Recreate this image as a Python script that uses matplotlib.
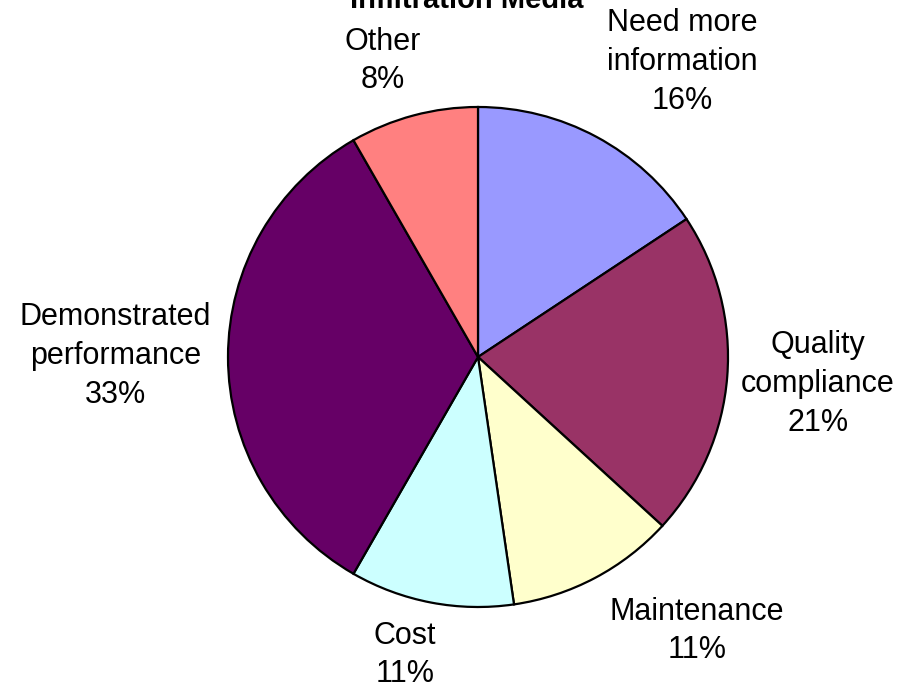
import matplotlib
matplotlib.use("Agg")
import matplotlib.pyplot as plt

categories = ["Need more\ninformation", "Quality\ncompliance", "Maintenance", "Cost",
              "Demonstrated\nperformance", "Other"]
values = [15.7, 21.1, 10.9, 10.6, 33.4, 8.3]
colors = ["#9999FF", "#993366", "#FFFFCC", "#CCFFFF", "#660066", "#FF8080"]
title = "Infiltration Media"

# label layout (data coords, pie radius = 1)
label_pos = [(0.816, 1.18), (1.36, -0.108), (0.876, -1.096), (-0.292, -1.192),
             (-1.45, 0.004), (-0.38, 1.184)]

plt.rcParams['font.family'] = ['Liberation Sans', 'DejaVu Sans']
fig = plt.figure(figsize=(9.04, 6.91), dpi=100)
ax = fig.add_axes([0, 0, 1, 1])
ax.pie(values, colors=colors, startangle=90, counterclock=False, radius=1.0,
       wedgeprops=dict(edgecolor="black", linewidth=1.6))
total = sum(values)
for cat, v, (x, y) in zip(categories, values, label_pos):
    ax.text(x, y, f"{cat}\n{round(100 * v / total)}%", ha="center", va="center",
            fontsize=22, linespacing=1.38)
ax.text(-0.044, 1.396, title, ha="center", va="baseline", fontsize=21, fontweight="bold")
ax.set_xlim(-1.912, 1.704)
ax.set_ylim(-1.336, 1.428)
ax.set_aspect("equal")
ax.axis("off")
fig.savefig("out.png", dpi=100)
